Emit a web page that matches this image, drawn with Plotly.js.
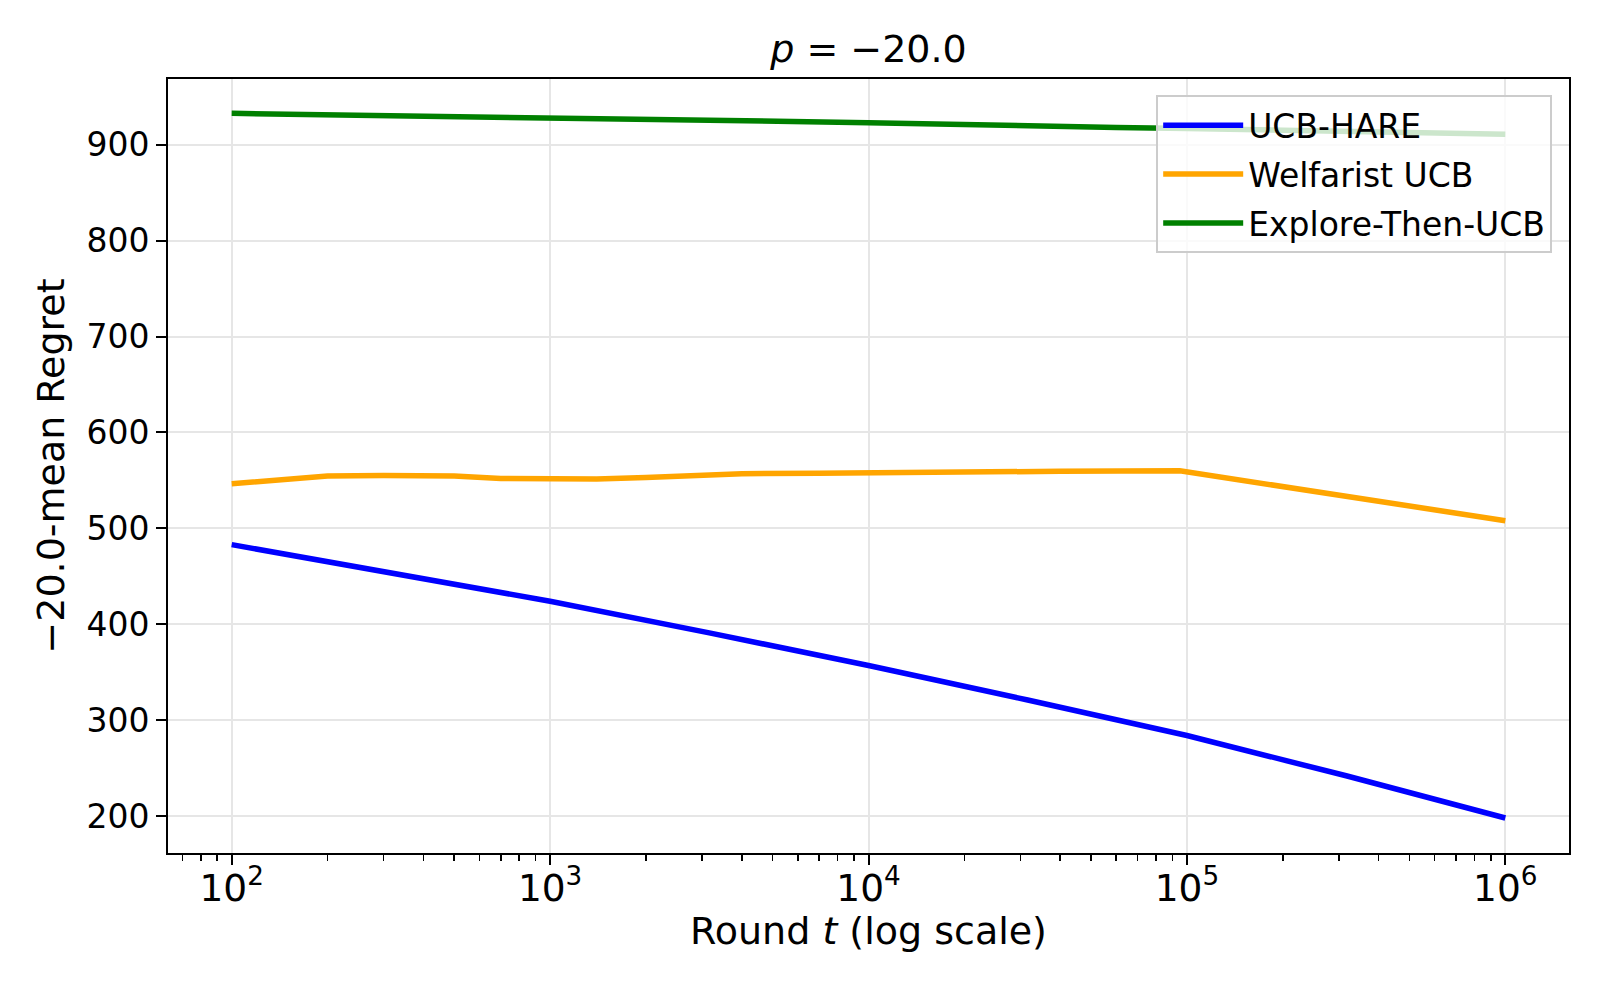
<!DOCTYPE html>
<html>
<head>
<meta charset="utf-8">
<script src="https://cdn.plot.ly/plotly-3.0.1.min.js"></script>
<style>
  html, body { margin: 0; padding: 0; background: #ffffff; }
  #chart { width: 1600px; height: 1000px; }
</style>
</head>
<body>
<div id="chart"></div>
<script>
// ---- data ----
const hareRounds = [100, 316, 1000, 3162, 10000, 31623, 100000, 316228, 1000000];
const hareRegret = [483, 454, 424, 391, 357, 321, 284, 242, 198];

const welfRounds = [100, 200, 300, 500, 700, 1000, 1400, 2000, 3000, 4000, 7000, 10000, 12000, 40000, 95000, 1000000];
const welfRegret = [546.5, 554.5, 555, 554.5, 552, 551.5, 551.5, 553, 555, 557, 557.5, 558, 559, 559.5, 560, 508];

const etuRounds = [100, 1000, 10000, 60000, 100000, 1000000];
const etuRegret = [932.7, 928.3, 923, 918, 917, 911];

const seriesNames = ["UCB-HARE", "Welfarist UCB", "Explore-Then-UCB"];
const seriesColors = ["#0000ff", "#ffa500", "#008000"];
const yTicks = [200, 300, 400, 500, 600, 700, 800, 900];

const FONT = "DejaVu Sans, Liberation Sans, sans-serif";

const traces = [
  {x: hareRounds, y: hareRegret, name: seriesNames[0]},
  {x: welfRounds, y: welfRegret, name: seriesNames[1]},
  {x: etuRounds, y: etuRegret, name: seriesNames[2]}
].map((t, i) => Object.assign(t, {
  type: "scatter", mode: "lines",
  line: {color: seriesColors[i], width: 5.5},
  legendgroup: "g" + i,
  hoverinfo: "skip"
}));

const layout = {
  width: 1600, height: 1000,
  margin: {l: 168, r: 31, t: 79, b: 147, pad: 0},
  paper_bgcolor: "#ffffff", plot_bgcolor: "#ffffff",
  font: {family: FONT, color: "#000000", size: 33},
  title: {
    text: "<i>p</i> = −20.0",
    font: {family: FONT, size: 38, color: "#000000"},
    x: 0.5, xref: "paper", xanchor: "center",
    y: 1 - 49 / 1000, yref: "container", yanchor: "middle"
  },
  xaxis: {
    type: "log", range: [1.8, 6.2],
    dtick: 1, exponentformat: "power",
    showline: true, mirror: true, linecolor: "#000000", linewidth: 2,
    ticks: "outside", ticklen: 10, tickwidth: 2, tickcolor: "#000000",
    tickfont: {family: FONT, size: 30, color: "#000000"},
    ticklabelstandoff: -8,
    showgrid: true, gridcolor: "#e6e6e6", gridwidth: 2,
    zeroline: false,
    minor: {ticks: "outside", ticklen: 6, tickwidth: 1.6, tickcolor: "#000000", dtick: "D1", showgrid: false},
    title: {text: "Round <i>t</i> (log scale)", font: {family: FONT, size: 38, color: "#000000"}, standoff: 8}
  },
  yaxis: {
    range: [161.5, 968.5],
    tickvals: yTicks,
    showline: true, mirror: true, linecolor: "#000000", linewidth: 2,
    ticks: "outside", ticklen: 10, tickwidth: 2, tickcolor: "#000000",
    tickfont: {family: FONT, size: 33, color: "#000000"},
    showgrid: true, gridcolor: "#e6e6e6", gridwidth: 2,
    zeroline: false,
    title: {text: "−20.0-mean Regret", font: {family: FONT, size: 38, color: "#000000"}, standoff: 10}
  },
  showlegend: true,
  legend: {
    x: 0.988, xanchor: "right", y: 0.979, yanchor: "top",
    bgcolor: "rgba(255,255,255,0.8)", bordercolor: "#cccccc", borderwidth: 2,
    font: {family: FONT, size: 33, color: "#000000"},
    itemwidth: 80,
    traceorder: "grouped", tracegroupgap: 3
  }
};

Plotly.newPlot("chart", traces, layout, {displayModeBar: false, staticPlot: true});
</script>
</body>
</html>
